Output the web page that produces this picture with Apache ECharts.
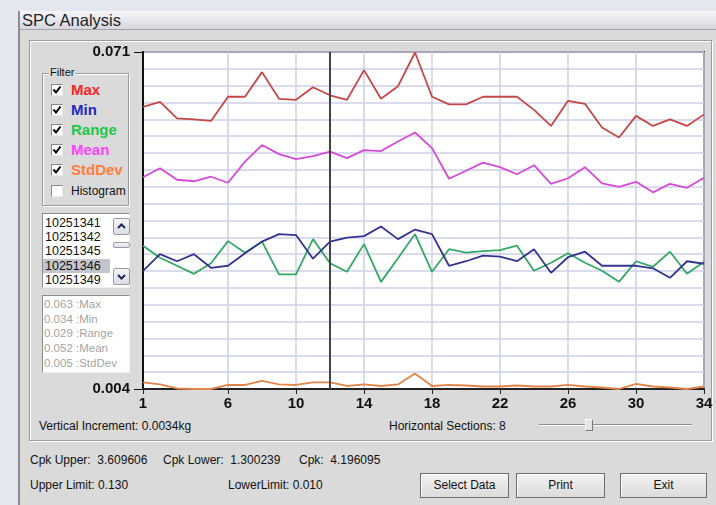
<!DOCTYPE html>
<html><head><meta charset="utf-8">
<script src="https://cdn.jsdelivr.net/npm/echarts@6/dist/echarts.min.js"></script>
<style>
body{margin:0;width:716px;height:505px;overflow:hidden;background:#e4e7ef;font-family:"Liberation Sans",Arial,sans-serif;position:relative;color:#111}
.a{position:absolute;white-space:pre}
#win{left:18px;top:11px;width:698px;height:494px;background:#dadada;border-left:2px solid #8c8c92;box-sizing:border-box}
#title{left:20px;top:11px;width:696px;height:19px;background:linear-gradient(#f7f7fa,#d6d6de);border-bottom:1px solid #a4a4ac;font-family:"Liberation Sans",sans-serif;font-size:16.5px;line-height:19px;color:#222;padding-left:2px;box-sizing:border-box}
.grp{border:1px solid #9c9c9c;box-shadow:inset 1px 1px 0 #fff,1px 1px 0 #fff;box-sizing:border-box}
.cb{width:12px;height:12px;background:#fff;border:1px solid #8a8a8a;border-right-color:#e8e8e8;border-bottom-color:#e8e8e8;box-sizing:border-box}
.lbl{font-weight:bold;font-size:15px;line-height:18px}
.sunk{background:#fff;border:1px solid #8c8c8c;border-right-color:#f0f0f0;border-bottom-color:#f0f0f0;box-sizing:border-box}
.btn{background:linear-gradient(#f2f2f2,#dcdcdc);border:1px solid #6e6e6e;box-shadow:inset 1px 1px 0 #fff;box-sizing:border-box;text-align:center;font-size:12px;line-height:23px}
.sb{background:linear-gradient(#f4f4f8,#dcdce4);border:1px solid #9a9aa6;border-radius:2px;box-sizing:border-box}
.t12{font-size:12px;line-height:14px}
</style></head>
<body>
<div id="win" class="a"></div>
<div id="title" class="a">SPC Analysis</div>
<div class="a grp" style="left:29px;top:40px;width:683px;height:401px"></div>

<div class="a grp" style="left:42px;top:73px;width:87px;height:133px"></div>
<div class="a" style="left:49px;top:66px;font-size:11px;line-height:13px;background:#dadada;padding:0 1px">Filter</div>
<div id="filters"></div>

<div class="a sunk" style="left:42px;top:213px;width:88px;height:75px"></div>
<div class="a" style="left:43px;top:259px;width:67px;height:14px;background:#c4c4cc"></div>
<div id="items"></div>
<div class="a sb" style="left:113px;top:218px;width:17px;height:17px"><svg width="15" height="15" style="display:block"><polyline points="4,9 7.5,5.5 11,9" fill="none" stroke="#1a2a5a" stroke-width="2"/></svg></div>
<div class="a sb" style="left:113px;top:242px;width:17px;height:6px"></div>
<div class="a sb" style="left:113px;top:268px;width:17px;height:17px"><svg width="15" height="15" style="display:block"><polyline points="4,6 7.5,9.5 11,6" fill="none" stroke="#1a2a5a" stroke-width="2"/></svg></div>

<div class="a sunk" style="left:42px;top:295px;width:88px;height:78px"></div>
<div id="stats"></div>

<div class="a t12" style="left:39px;top:419px">Vertical Increment: 0.0034kg</div>
<div class="a t12" style="left:389px;top:419px">Horizontal Sections: 8</div>
<div class="a" style="left:539px;top:424px;width:153px;height:1px;background:#8e8e8e;border-bottom:1px solid #fff"></div>
<div class="a" style="left:585px;top:419px;width:8px;height:12px;background:#e4e4e4;border:1px solid #7a7a7a;border-top-color:#fff;border-left-color:#fff;box-sizing:border-box"></div>

<div class="a t12" style="left:30px;top:453px">Cpk Upper:  3.609606</div>
<div class="a t12" style="left:163px;top:453px">Cpk Lower:  1.300239</div>
<div class="a t12" style="left:299px;top:453px">Cpk:  4.196095</div>
<div class="a t12" style="left:30px;top:478px">Upper Limit: 0.130</div>
<div class="a t12" style="left:228px;top:478px">LowerLimit: 0.010</div>
<div class="a btn" style="left:420px;top:473px;width:89px;height:25px">Select Data</div>
<div class="a btn" style="left:516px;top:473px;width:89px;height:25px">Print</div>
<div class="a btn" style="left:620px;top:473px;width:87px;height:25px">Exit</div>

<div id="chart" class="a" style="left:0;top:0;width:716px;height:505px"></div>
<script>
const categories = ['1','2','3','4','5','6','7','8','9','10','11','12','13','14','15','16','17','18','19','20','21','22','23','24','25','26','27','28','29','30','31','32','33','34'];
const maxValues = [0.0601,0.0611,0.0578,0.0576,0.0573,0.0621,0.0621,0.0670,0.0617,0.0615,0.0640,0.0624,0.0615,0.0674,0.0617,0.0642,0.0709,0.0621,0.0606,0.0606,0.0621,0.0621,0.0621,0.0595,0.0563,0.0613,0.0607,0.0560,0.0540,0.0583,0.0563,0.0576,0.0563,0.0586];
const minValues = [0.0275,0.0308,0.0294,0.0308,0.0281,0.0285,0.0310,0.0333,0.0348,0.0346,0.0299,0.0333,0.0341,0.0344,0.0363,0.0338,0.0357,0.0348,0.0285,0.0294,0.0305,0.0303,0.0294,0.0318,0.0271,0.0302,0.0313,0.0285,0.0285,0.0285,0.0280,0.0261,0.0294,0.0289];
const rangeValues = [0.0325,0.0301,0.0285,0.0269,0.0290,0.0334,0.0311,0.0333,0.0268,0.0268,0.0338,0.0290,0.0273,0.0328,0.0253,0.0300,0.0348,0.0273,0.0318,0.0311,0.0314,0.0316,0.0325,0.0275,0.0291,0.0310,0.0291,0.0275,0.0253,0.0294,0.0283,0.0313,0.0269,0.0293];
const meanValues = [0.0461,0.0479,0.0456,0.0453,0.0462,0.0450,0.0492,0.0525,0.0507,0.0497,0.0503,0.0512,0.0499,0.0515,0.0513,0.0532,0.0550,0.0519,0.0458,0.0474,0.0490,0.0481,0.0467,0.0485,0.0448,0.0459,0.0481,0.0449,0.0442,0.0452,0.0431,0.0448,0.0440,0.0460];
const stdDevValues = [0.0053,0.0049,0.0041,0.0040,0.0040,0.0048,0.0048,0.0056,0.0049,0.0048,0.0053,0.0053,0.0046,0.0049,0.0046,0.0049,0.0071,0.0046,0.0048,0.0047,0.0045,0.0045,0.0047,0.0045,0.0045,0.0048,0.0045,0.0043,0.0040,0.0050,0.0045,0.0043,0.0040,0.0045];
const xTickLabels = ['1','6','10','14','18','22','26','30','34'];
const yTickValues = [0.004, 0.071];
const yTickLabels = ['0.004', '0.071'];
const cursorCategory = '12';
const filterNames = ['Max','Min','Range','Mean','StdDev','Histogram'];
const filterChecked = [true,true,true,true,true,false];
const filterColors = ['#ff2424','#2626c8','#1ec84a','#ff44ff','#ff7e3a','#111'];
const listItems = ['10251341','10251342','10251345','10251346','10251349'];
const statLines = ['0.063 :Max','0.034 :Min','0.029 :Range','0.052 :Mean','0.005 :StdDev'];

let h = '';
const rowY = [90,110,130,150,170,191];
filterNames.forEach((n,i)=>{
  h += `<div class="a cb" style="left:51px;top:${rowY[i]-6}px">${filterChecked[i]?'<svg width="10" height="10" style="display:block"><polyline points="1.5,4.5 4,7.5 8.5,1.5" fill="none" stroke="#000" stroke-width="2"/></svg>':''}</div>`;
  const st = i===5 ? 'font-weight:normal;font-size:12px;' : '';
  h += `<div class="a lbl" style="left:71px;top:${rowY[i]-9}px;color:${filterColors[i]};${st}">${n}</div>`;
});
document.getElementById('filters').innerHTML = h;
h = '';
listItems.forEach((t,i)=>{ h += `<div class="a" style="left:45px;top:${216+i*14.2}px;font-size:12.5px;line-height:14px">${t}</div>`; });
document.getElementById('items').innerHTML = h;
h = '';
statLines.forEach((t,i)=>{ h += `<div class="a" style="left:44px;top:${297+i*14.7}px;font-size:11.5px;line-height:14px;color:#a4a4a4">${t}</div>`; });
document.getElementById('stats').innerHTML = h;

const showX = (idx, val) => xTickLabels.indexOf(categories[idx]) >= 0;
const chart = echarts.init(document.getElementById('chart'), null, {renderer:'canvas'});
const mk = (name, data, color, extra) => Object.assign({
  name, type:'line', data, symbol:'none', showSymbol:false, animation:false,
  lineStyle:{color, width:1.8}, itemStyle:{color}
}, extra||{});
chart.setOption({
  animation:false,
  grid:{left:143, top:52, width:561, height:337, show:true, backgroundColor:'#fff', borderColor:'#333', borderWidth:2},
  xAxis:{type:'category', data:categories, boundaryGap:false,
    axisLine:{lineStyle:{color:'#222', width:2}},
    axisTick:{show:true, interval:showX, length:5, lineStyle:{color:'#222'}},
    axisLabel:{interval:showX, fontWeight:'bold', fontSize:15, color:'#111', margin:7, fontFamily:'Liberation Sans'},
    splitLine:{show:true, interval:showX, lineStyle:{color:'#cfcfe8', width:1.5}}
  },
  yAxis:[
    {type:'value', min:0.004, max:0.071, interval:0.067,
      axisLine:{show:true, lineStyle:{color:'#111', width:2}},
      axisTick:{show:true, length:9, lineStyle:{color:'#111'}},
      axisLabel:{fontWeight:'bold', fontSize:15, color:'#111', margin:13, fontFamily:'Liberation Sans',
        formatter:v=>{const k=yTickValues.findIndex(t=>Math.abs(t-v)<1e-6); return k>=0?yTickLabels[k]:'';}},
      splitLine:{show:false}},
    {type:'value', min:0.004, max:0.071, interval:0.00335, position:'left',
      axisLine:{show:false}, axisTick:{show:false}, axisLabel:{show:false},
      splitLine:{show:true, lineStyle:{color:'#cfcfe8', width:1.5}}}
  ],
  series:[
    mk('StdDev', stdDevValues, '#e0864a'),
    mk('Range', rangeValues, '#34a866'),
    mk('Min', minValues, '#34348f'),
    mk('Mean', meanValues, '#d64ad6'),
    mk('Max', maxValues, '#c44848', {markLine:{silent:true, symbol:'none', animation:false,
      label:{show:false}, lineStyle:{color:'#444', width:2, type:'solid'}, data:[{xAxis:cursorCategory}]}})
  ]
});
</script>
</body></html>
